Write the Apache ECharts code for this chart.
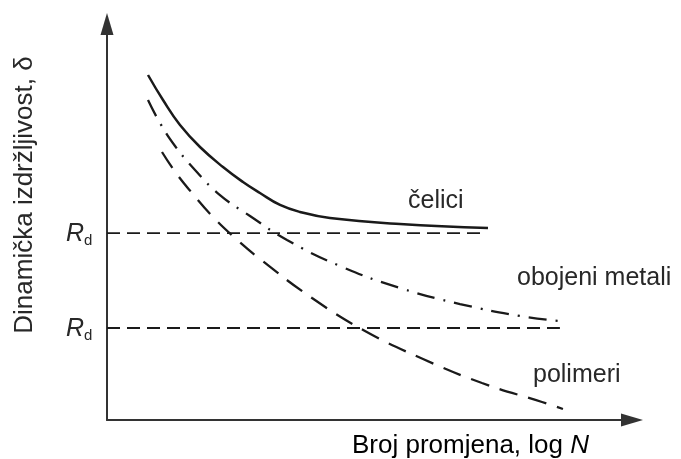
<!DOCTYPE html>
<html>
<head>
<meta charset="utf-8">
<script src="https://cdn.jsdelivr.net/npm/echarts@6/dist/echarts.min.js"></script>
<style>
  html, body { margin: 0; padding: 0; background: #fff; }
  #chart { width: 681px; height: 459px; }
</style>
</head>
<body>
<div id="chart"></div>
<script>
// krivulje dinamičke izdržljivosti (proizvoljne jedinice, očitano sa slike)
const celiciX = [7.65, 10.45, 13.62, 17.35, 21.64, 25.37, 28.54, 32.28, 36.0, 41.6, 54.66, 71.08];
const celiciY = [84.77, 78.62, 72.48, 67.08, 62.16, 58.48, 55.77, 52.83, 51.11, 49.63, 48.16, 47.17];

const obojeniX = [7.65, 9.89, 12.69, 16.42, 21.08, 26.68, 33.58, 43.47, 54.66, 65.86, 77.05, 84.33];
const obojeniY = [78.62, 72.97, 67.32, 61.43, 55.28, 50.12, 44.23, 37.84, 32.43, 28.5, 25.55, 24.32];

const polimeriX = [10.26, 12.87, 15.86, 19.78, 23.88, 28.54, 38.25, 48.13, 58.96, 69.96, 81.16, 85.07];
const polimeriY = [65.85, 60.69, 55.77, 49.88, 44.72, 39.56, 29.98, 21.87, 14.99, 9.09, 4.42, 2.70];

// granice R_d: [razina, kraj crte]
const rdGornji = [45.9, 69.6];
const rdDonji = [22.6, 84.5];

const TXT = '#282828';
const LINE = '#1a1a1a';
const FONT = '"Liberation Sans", Arial, sans-serif';

function pairs(xs, ys) {
  return xs.map((x, i) => [x, ys[i]]);
}

function curve(name, xs, ys, type, width) {
  return {
    name: name,
    type: 'line',
    data: pairs(xs, ys),
    smooth: 0.45,
    symbol: 'none',
    silent: true,
    lineStyle: { color: LINE, width: width, type: type }
  };
}

function rdLine(rd) {
  return {
    type: 'line',
    data: [[0, rd[0]], [rd[1], rd[0]]],
    symbol: 'none',
    silent: true,
    lineStyle: { color: LINE, width: 1.8, type: [13, 7] }
  };
}

let myChart = echarts.init(document.getElementById('chart'));

let axisLine = {
  show: true,
  symbol: ['none', 'triangle'],
  symbolSize: [13, 22],
  lineStyle: { color: '#333', width: 2 }
};

let option = {
  animation: false,
  backgroundColor: '#fff',
  grid: { left: 107, right: 49, top: 24, bottom: 39 },
  xAxis: {
    type: 'value',
    min: 0,
    max: 97.95,
    axisLine: axisLine,
    axisTick: { show: false },
    axisLabel: { show: false },
    splitLine: { show: false }
  },
  yAxis: {
    type: 'value',
    min: 0,
    max: 97.3,
    axisLine: axisLine,
    axisTick: { show: false },
    axisLabel: { show: false },
    splitLine: { show: false }
  },
  series: [
    rdLine(rdGornji),
    rdLine(rdDonji),
    curve('čelici', celiciX, celiciY, 'solid', 2.5),
    curve('obojeni metali', obojeniX, obojeniY, [18, 9, 2, 9], 2.3),
    curve('polimeri', polimeriX, polimeriY, [19, 11], 2.3)
  ],
  graphic: [
    // natpisi krivulja
    { type: 'text', x: 408, y: 201, style: { text: 'čelici', font: '25px ' + FONT, fill: TXT, textVerticalAlign: 'middle' } },
    { type: 'text', x: 517, y: 278, style: { text: 'obojeni metali', font: '25px ' + FONT, fill: TXT, textVerticalAlign: 'middle' } },
    { type: 'text', x: 533, y: 375, style: { text: 'polimeri', font: '25px ' + FONT, fill: TXT, textVerticalAlign: 'middle' } },
    // os x
    {
      type: 'text', x: 352, y: 446,
      style: {
        text: '{a|Broj promjena, log }{n|N}',
        textVerticalAlign: 'middle',
        rich: {
          a: { fontSize: 26, fontFamily: FONT, color: TXT },
          n: { fontSize: 26, fontFamily: FONT, fontStyle: 'italic', color: TXT }
        }
      }
    },
    // os y
    {
      type: 'text', x: 25, y: 195, rotation: Math.PI / 2,
      style: { text: 'Dinamička izdržljivost, δ', font: '26px ' + FONT, fill: TXT, textAlign: 'center', textVerticalAlign: 'middle' }
    },
    // R_d oznake
    { type: 'text', x: 66, y: 234, style: { text: 'R', font: 'italic 25px ' + FONT, fill: TXT, textVerticalAlign: 'middle' } },
    { type: 'text', x: 84, y: 241, style: { text: 'd', font: '15px ' + FONT, fill: TXT, textVerticalAlign: 'middle' } },
    { type: 'text', x: 66, y: 329, style: { text: 'R', font: 'italic 25px ' + FONT, fill: TXT, textVerticalAlign: 'middle' } },
    { type: 'text', x: 84, y: 336, style: { text: 'd', font: '15px ' + FONT, fill: TXT, textVerticalAlign: 'middle' } }
  ]
};

myChart.setOption(option);
</script>
</body>
</html>
